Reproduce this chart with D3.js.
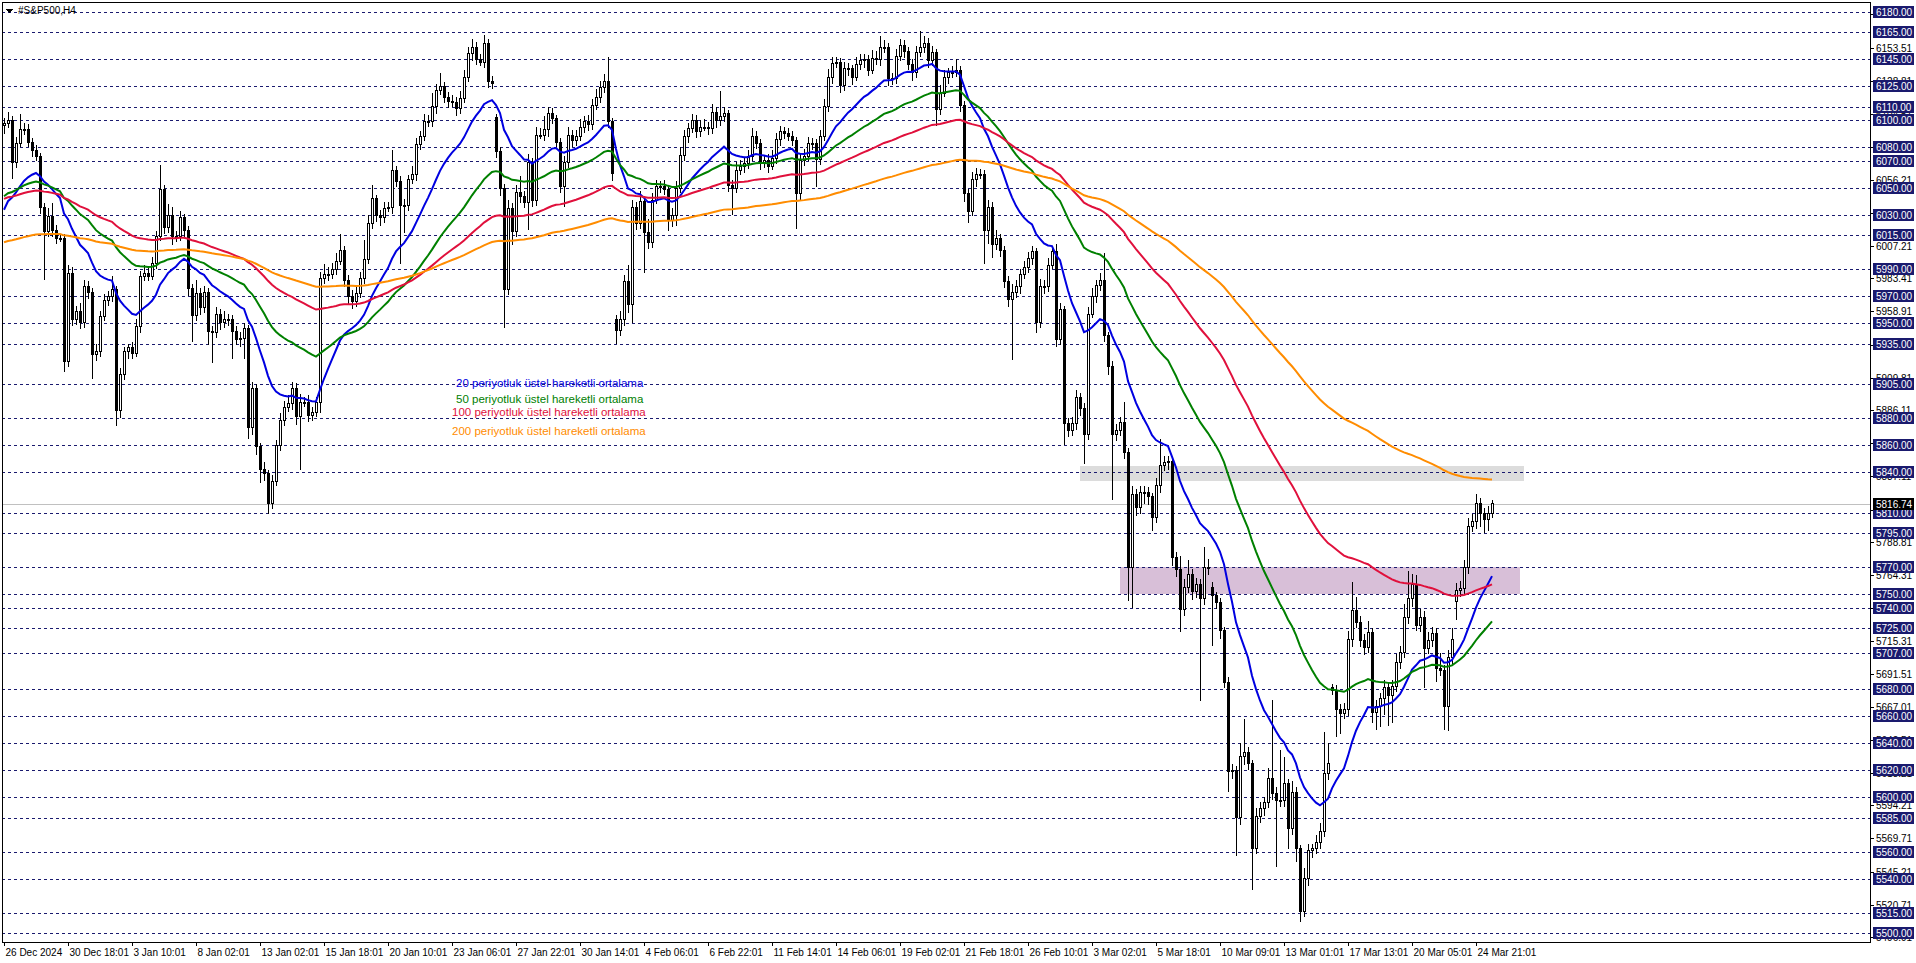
<!DOCTYPE html>
<html>
<head>
<meta charset="utf-8">
<script src="https://cdn.jsdelivr.net/npm/d3@7"></script>
<style>
  body { margin: 0; background: #fff; }
  text { font-family: "Liberation Sans", Arial, sans-serif; }
</style>
</head>
<body>
<script>
// 4h closes, one per bar
const closes = [
  6098,6100,6069,6083,6093,6093,6084,6078,6073,6036,
  6018,6029,6019,6013,6013,5922,5987,5953,5959,5951,
  5977,5973,5927,5929,5955,5967,5970,5975,5886,5912,
  5929,5932,5928,5948,5985,5987,5985,5994,6014,6049,
  6021,6030,6014,6014,6028,6019,5976,5956,5972,5962,
  5973,5944,5943,5957,5951,5953,5953,5944,5938,5939,
  5946,5873,5902,5859,5842,5839,5817,5833,5860,5878,
  5888,5891,5902,5881,5892,5892,5882,5884,5892,5983,
  5986,5986,5990,5996,6004,5982,5970,5966,5972,5983,
  5997,6024,6042,6030,6028,6035,6036,6063,6055,6037,
  6037,6056,6060,6082,6088,6099,6099,6110,6122,6125,
  6117,6114,6113,6109,6116,6132,6149,6154,6145,6143,
  6157,6129,6127,6077,6050,5975,6035,6018,6047,6044,
  6039,6069,6041,6089,6089,6093,6105,6101,6084,6051,
  6069,6089,6085,6088,6095,6099,6097,6111,6117,6124,
  6129,6099,6061,5945,5953,5981,5964,6036,6024,6040,
  6017,6010,6041,6051,6051,6049,6026,6030,6050,6074,
  6088,6094,6100,6092,6095,6095,6094,6106,6100,6103,
  6105,6052,6050,6063,6066,6068,6073,6088,6083,6069,
  6070,6066,6072,6086,6092,6090,6088,6085,6046,6070,
  6073,6083,6083,6071,6088,6110,6132,6142,6143,6126,
  6138,6138,6132,6141,6144,6145,6137,6146,6145,6154,
  6154,6131,6131,6147,6155,6151,6141,6135,6150,6154,
  6157,6144,6150,6108,6120,6132,6135,6135,6137,6111,
  6046,6033,6056,6060,6060,6019,6036,6008,6013,6004,
  5981,5968,5973,5977,5986,5991,5998,6003,5951,5977,
  5977,5993,6003,5938,5960,5876,5871,5876,5895,5887,
  5868,5957,5970,5978,5982,5941,5918,5868,5871,5877,
  5855,5770,5824,5814,5825,5825,5822,5807,5830,5845,
  5847,5848,5777,5768,5739,5755,5765,5752,5757,5747,
  5770,5770,5749,5744,5723,5685,5619,5620,5585,5630,
  5633,5625,5562,5586,5592,5596,5614,5603,5598,5598,
  5610,5577,5604,5562,5516,5540,5561,5562,5567,5575,
  5618,5625,5679,5665,5662,5665,5717,5738,5729,5716,
  5711,5722,5663,5667,5673,5681,5675,5682,5700,5707,
  5733,5747,5757,5727,5733,5710,5716,5721,5695,5694,
  5667,5703,5717,5753,5754,5770,5800,5804,5817,5810,
  5805,5810,5816.74
];
const firstOpen = 6096;
const gapOpens = { 123: 6102, 153: 5953, 302: 5755, 332: 5681, 363: 5745 };

// wick lengths above / below the body, points
const wickUp = [
  4,6,3,5,12,5,4,3,4,3, 3,6,10,4,3,3,6,5,4,6, 5,4,3,6,4,5,4,10,3,5, 4,3,4,5,4,6,4,5,4,18,
  3,8,6,4,5,3,3,3,10,4, 5,3,4,5,4,6,4,3,4,5, 4,3,5,3,3,6,3,5,4,6, 5,6,5,4,6,4,5,4,4,5,
  8,6,5,6,12,3,4,5,6,5, 15,6,10,3,4,5,4,15,3,4, 5,4,6,5,4,6,5,10,5,10, 3,4,5,4,6,5,5,6,4,4,
  6,3,4,3,3,3,6,4,5,12, 4,6,3,6,5,10,5,4,3,3, 5,6,4,5,6,4,5,5,6,5, 5,18,3,3,6,5,12,5,4,8,
  4,10,5,5,4,5,3,5,5,6, 5,4,5,4,5,6,4,6,4,19, 5,3,4,6,5,4,5,6,4,3, 4,5,6,5,4,3,4,4,3,5,
  6,5,4,3,5,6,6,5,4,3, 5,4,3,6,5,4,3,6,5,8, 5,3,4,6,5,4,3,4,5,12, 5,4,5,3,6,5,4,5,8,3,
  3,3,6,5,4,3,5,4,6,3, 3,4,6,5,4,5,5,4,3,6, 5,5,4,6,5,3,4,5,6,4, 4,5,6,4,5,20,3,4,5,4,
  15,3,6,4,5,5,4,3,6,20, 5,4,3,4,10,6,10,4,5,4, 15,6,4,3,3,3,4,5,3,10, 25,4,3,6,5,4,8,58,5,37,
  20,4,8,4,3,8,5,4,5,6, 30,15,3,4,4,5,6,21,10,5, 5,8,3,5,4,6,4,5,6,5, 10,20,8,7,6,5,6,5,4,12,
  4,6,8,5,6,5,6,5,7,4, 4,5,3
];
const wickDown = [
  6,4,12,4,3,4,4,5,3,5, 36,4,5,4,3,8,4,5,4,5, 4,5,18,5,4,3,4,4,12,6, 4,5,4,3,5,4,4,3,4,3,
  5,4,6,4,3,5,6,20,4,6, 4,10,22,4,6,4,5,20,4,5, 15,8,5,6,10,5,8,4,3,4, 4,3,5,6,39,4,5,4,3,8,
  4,5,3,4,3,5,6,5,4,3, 4,3,4,5,6,4,3,5,4,43, 20,4,3,5,4,3,4,4,5,3, 4,5,3,6,4,3,4,5,4,3,
  4,5,4,5,6,28,4,10,4,5, 4,20,5,4,3,4,5,4,5,5, 15,4,5,4,3,4,5,4,3,4, 4,5,6,10,4,5,6,14,5,4,
  30,5,4,3,5,4,8,5,8,4, 4,5,3,5,4,3,5,4,6,4, 4,5,20,4,3,5,4,3,4,6, 4,5,3,4,5,4,3,4,26,5,
  4,3,5,20,4,3,4,5,3,6, 4,5,6,3,4,5,4,3,4,5, 4,6,5,4,3,5,4,6,4,3, 4,5,4,12,4,3,5,4,3,5,
  6,9,4,5,3,25,10,10,4,5, 5,6,45,4,5,3,4,5,8,4, 5,4,3,5,4,16,5,4,5,5, 22,4,3,5,4,5,6,48,5,4,
  5,25,30,6,5,8,6,10,4,5, 4,5,6,5,17,5,4,6,5,76, 5,6,37,5,6,4,15,5,28,5, 6,5,30,4,5,6,4,5,49,5,
  5,15,5,10,8,4,5,6,4,5, 4,5,3,20,15,4,5,6,4,5, 6,4,8,13,15,12,22,20,4,5, 4,5,6,4,5,29,4,5,10,4,
  17,18,5,14,5,4,5,4,6,10, 10,8,4
];

// moving averages: periods, colours, value at first bar
const emaPeriods = [20, 50, 100, 200];
const emaColors = ["#0000e0", "#008000", "#e0103c", "#ff8c00"];
const emaSeeds = [6034, 6044, 6042, 6010];
const emaLabels = [
  "20 periyotluk üstel hareketli ortalama",
  "50 periyotluk üstel hareketli ortalama",
  "100 periyotluk üstel hareketli ortalama",
  "200 periyotluk üstel hareketli ortalama"
];

const levels = [6180,6165,6145,6125,6110,6100,6080,6070,6050,6030,6015,5990,5970,5950,5935,
  5905,5880,5860,5840,5810,5795,5770,5750,5740,5725,5707,5680,5660,5640,5620,5600,5585,5560,5540,5515,5500];
const scaleTicks = [6178.21,6153.51,6128.81,6104.51,6080.21,6056.21,6031.71,6007.21,5983.41,5958.91,
  5934.21,5909.81,5886.11,5861.41,5837.11,5812.51,5788.81,5764.31,5739.61,5715.31,5691.51,5667.01,
  5642.51,5618.21,5594.21,5569.71,5545.21,5520.71,5496.91];
const dateLabels = ["26 Dec 2024","30 Dec 18:01","3 Jan 10:01","8 Jan 02:01","13 Jan 02:01","15 Jan 18:01",
  "20 Jan 10:01","23 Jan 06:01","27 Jan 22:01","30 Jan 14:01","4 Feb 06:01","6 Feb 22:01","11 Feb 14:01",
  "14 Feb 06:01","19 Feb 02:01","21 Feb 18:01","26 Feb 10:01","3 Mar 02:01","5 Mar 18:01","10 Mar 09:01",
  "13 Mar 01:01","17 Mar 13:01","20 Mar 05:01","24 Mar 21:01"];
const lastPrice = 5816.74;
// zones: [firstBar, lastBar, high, low]
const greyZone = [269, 380, 5845, 5834];
const purpleZone = [279, 379, 5770, 5750];

const W = 1916, H = 963;
const pLeft = 2, pRight = 1870, pTop = 2, pBottom = 942;

const bars = closes.map((c, i) => {
  const o = gapOpens[i] !== undefined ? gapOpens[i] : (i === 0 ? firstOpen : closes[i - 1]);
  return { i, o, c, h: Math.max(o, c) + wickUp[i], l: Math.min(o, c) - wickDown[i] };
});

const x = d3.scaleLinear().domain([0, 372]).range([4, 1492]);
const y = d3.scaleLinear().domain([5500, 6180]).range([932.9, 12]);

const svg = d3.select("body").append("svg")
  .attr("width", W).attr("height", H)
  .attr("shape-rendering", "crispEdges");

// zones
[[greyZone, "#dcdcdc"], [purpleZone, "#d8bfd8"]].forEach(([z, col]) => {
  svg.append("rect")
    .attr("x", x(z[0])).attr("y", y(z[2]))
    .attr("width", Math.min(x(z[1]), pRight) - x(z[0]))
    .attr("height", y(z[3]) - y(z[2]))
    .attr("fill", col);
});

// dashed levels
svg.append("g").selectAll("line").data(levels).enter().append("line")
  .attr("x1", pLeft).attr("x2", pRight)
  .attr("y1", d => Math.round(y(d)) + 0.5).attr("y2", d => Math.round(y(d)) + 0.5)
  .attr("stroke", "#1a1a6e").attr("stroke-dasharray", "3,3");

// last price line
svg.append("line")
  .attr("x1", pLeft).attr("x2", pRight)
  .attr("y1", Math.round(y(lastPrice)) + 0.5).attr("y2", Math.round(y(lastPrice)) + 0.5)
  .attr("stroke", "#c0c0c0");

// candles
const g = svg.append("g");
g.selectAll("line.wick").data(bars).enter().append("line")
  .attr("x1", d => Math.round(x(d.i)) + 0.5).attr("x2", d => Math.round(x(d.i)) + 0.5)
  .attr("y1", d => y(d.h)).attr("y2", d => y(d.l))
  .attr("stroke", "#000");
g.selectAll("rect.body").data(bars).enter().append("rect")
  .attr("x", d => Math.round(x(d.i)) - 1 + 0.5)
  .attr("y", d => y(Math.max(d.o, d.c)))
  .attr("width", 2)
  .attr("height", d => Math.max(1, Math.abs(y(d.o) - y(d.c))))
  .attr("fill", d => d.c >= d.o ? "#fff" : "#000")
  .attr("stroke", "#000");

// EMAs
emaPeriods.forEach((p, k) => {
  const a = 2 / (p + 1);
  let v = emaSeeds[k];
  const pts = bars.map((b, i) => {
    if (i > 0) v = v + a * (b.c - v);
    return [x(i), y(v)];
  });
  svg.append("path")
    .attr("d", d3.line()(pts))
    .attr("fill", "none").attr("stroke", emaColors[k]).attr("stroke-width", 2)
    .attr("shape-rendering", "auto");
});

// legend
emaLabels.forEach((t, k) => {
  svg.append("text")
    .attr("x", k < 2 ? 456 : 452).attr("y", [387, 403, 416, 435][k])
    .attr("fill", emaColors[k]).style("font-size", "11.5px").text(t);
});

// frame
svg.append("rect").attr("x", pLeft).attr("y", pTop)
  .attr("width", pRight - pLeft).attr("height", pBottom - pTop)
  .attr("fill", "none").attr("stroke", "#000");

// price scale ticks
svg.append("g").selectAll("g").data(scaleTicks).enter().append("g")
  .each(function(d) {
    const s = d3.select(this);
    s.append("line").attr("x1", pRight).attr("x2", pRight + 4)
      .attr("y1", Math.round(y(d)) + 0.5).attr("y2", Math.round(y(d)) + 0.5).attr("stroke", "#000");
    s.append("text").attr("x", pRight + 6).attr("y", y(d) + 4)
      .style("font-size", "10px").attr("fill", "#000").text(d.toFixed(2));
  });

// level labels
svg.append("g").selectAll("g").data(levels).enter().append("g")
  .each(function(d) {
    const s = d3.select(this);
    s.append("rect").attr("x", pRight + 3).attr("y", y(d) - 6)
      .attr("width", 41).attr("height", 12).attr("fill", "#1a1a6e");
    s.append("text").attr("x", pRight + 6).attr("y", y(d) + 4)
      .style("font-size", "10px").attr("fill", "#fff").text(d.toFixed(2));
  });

// last price label
svg.append("rect").attr("x", pRight + 3).attr("y", y(lastPrice) - 6)
  .attr("width", 41).attr("height", 12).attr("fill", "#000");
svg.append("text").attr("x", pRight + 6).attr("y", y(lastPrice) + 4)
  .style("font-size", "10px").attr("fill", "#fff").text(lastPrice.toFixed(2));

// time axis
dateLabels.forEach((t, k) => {
  const xp = Math.round(x(k * 16)) + 0.5;
  svg.append("line").attr("x1", xp).attr("x2", xp)
    .attr("y1", pBottom).attr("y2", pBottom + 4).attr("stroke", "#000");
  svg.append("text").attr("x", xp + 1).attr("y", pBottom + 14)
    .style("font-size", "10px").attr("fill", "#000").text(t);
});

// title
svg.append("path").attr("d", "M6,9 L13,9 L9.5,13 Z").attr("fill", "#000");
svg.append("text").attr("x", 18).attr("y", 14)
  .style("font-size", "10px").attr("fill", "#000").text("#S&P500,H4");
</script>
</body>
</html>
